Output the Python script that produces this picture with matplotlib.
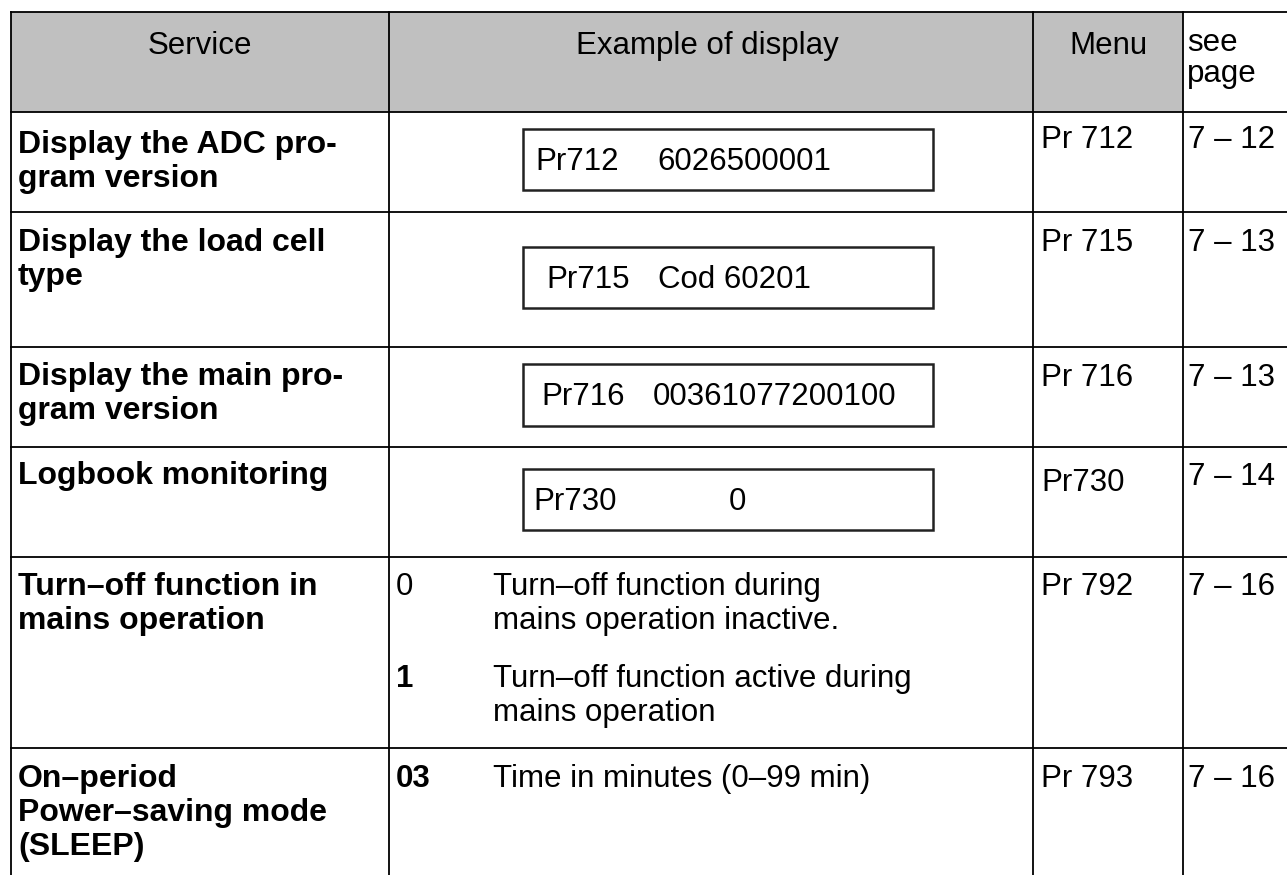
import matplotlib.pyplot as plt
from matplotlib.patches import Rectangle

plt.rcParams['font.family'] = ['Liberation Sans', 'DejaVu Sans']

# table content
headers = ['Service', 'Example of display', 'Menu', 'see\npage']
services = ['Display the ADC pro-\ngram version',
            'Display the load cell\ntype',
            'Display the main pro-\ngram version',
            'Logbook monitoring',
            'Turn\u2013off function in\nmains operation',
            'On\u2013period\nPower\u2013saving mode\n(SLEEP)']
disp_codes = ['Pr712', 'Pr715', 'Pr716', 'Pr730']
disp_values = ['6026500001', 'Cod 60201', '00361077200100', '0']
opt_codes = [['0', '1'], ['03']]
opt_bold = [[False, True], [True]]
opt_texts = [['Turn\u2013off function during\nmains operation inactive.',
              'Turn\u2013off function active during\nmains operation'],
             ['Time in minutes (0\u201399 min)']]
menus = ['Pr 712', 'Pr 715', 'Pr 716', 'Pr730', 'Pr 792', 'Pr 793']
pages = ['7 \u2013 12', '7 \u2013 13', '7 \u2013 13', '7 \u2013 14', '7 \u2013 16', '7 \u2013 16']

# layout (pixels)
W, H = 1287, 875
col_x = [11, 389, 1033, 1183]
row_y = [12, 112, 212, 347, 447, 557, 748]
fs = 22.5
fs_b = 23
lh = 34

fig = plt.figure(figsize=(W / 100, H / 100), dpi=100)
ax = fig.add_axes([0, 0, 1, 1])
ax.set_xlim(0, W)
ax.set_ylim(H, 0)
ax.axis('off')

# header background
ax.add_patch(Rectangle((col_x[0], row_y[0]), col_x[3] - col_x[0], row_y[1] - row_y[0],
                       facecolor='#c0c0c0', edgecolor='none', zorder=0))

# grid lines
for y in row_y:
    ax.plot([col_x[0], W], [y, y], color='black', lw=1.3, zorder=2)
for x in col_x:
    ax.plot([x, x], [row_y[0], H], color='black', lw=1.3, zorder=2)


def lines(x, y0, txt, size=fs, **kw):
    for i, s in enumerate(txt.split('\n')):
        ax.text(x, y0 + i * lh, s, fontsize=size, va='baseline', **kw)


# header
ax.text((col_x[0] + col_x[1]) / 2, 54, headers[0], fontsize=fs, ha='center', va='baseline')
ax.text((col_x[1] + col_x[2]) / 2 - 4, 54, headers[1], fontsize=fs, ha='center', va='baseline')
ax.text((col_x[2] + col_x[3]) / 2, 54, headers[2], fontsize=fs, ha='center', va='baseline')
for i, s in enumerate(headers[3].split('\n')):
    ax.text(1187, 51 + i * 31, s, fontsize=fs, va='baseline')

# service column
svc_base = [153, 251, 385, 484, 595, 787]
for s, yb in zip(services, svc_base):
    lines(18, yb, s, size=fs_b, fontweight='bold')

# menu + page columns
menu_base = [148, 251, 386, 491, 595, 787]
page_base = [148, 251, 386, 485, 595, 787]
for m, p, ym, yp in zip(menus, pages, menu_base, page_base):
    ax.text(1041, ym, m, fontsize=fs, va='baseline')
    ax.text(1188, yp, p, fontsize=fs, va='baseline')

# display boxes
box_y = [(129, 190), (247, 308), (364, 426), (469, 530)]
code_x = [535, 546, 541, 533]
val_x = [657, 658, 653, 729]
for (y0, y1), c, v, cx, vx in zip(box_y, disp_codes, disp_values, code_x, val_x):
    ax.add_patch(Rectangle((523, y0), 933 - 523, y1 - y0, facecolor='white',
                           edgecolor='#222222', lw=1.8, zorder=3))
    yb = (y0 + y1) / 2 + 10
    ax.text(cx, yb, c, fontsize=fs, va='baseline', zorder=4)
    ax.text(vx, yb, v, fontsize=fs, va='baseline', zorder=4)

# option rows
opt_base = [[595, 687], [787]]
for codes, bolds, texts, bases in zip(opt_codes, opt_bold, opt_texts, opt_base):
    for c, b, t, yb in zip(codes, bolds, texts, bases):
        ax.text(396, yb, c, fontsize=fs, va='baseline', fontweight='bold' if b else 'normal')
        lines(493, yb, t)

fig.savefig('out.png', dpi=100)
